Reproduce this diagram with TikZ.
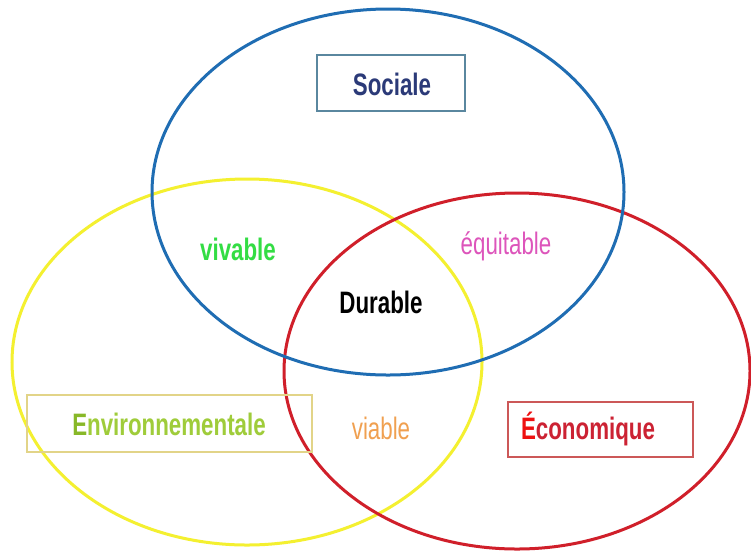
\documentclass[tikz,border=0pt]{standalone}
\usepackage{fontspec}
\setmainfont{Liberation Sans}
\newfontfamily\condfont[FakeStretch=0.72]{Liberation Sans}
\definecolor{cblue}{HTML}{1F6DB3}
\definecolor{cyellow}{HTML}{F4F030}
\definecolor{cred}{HTML}{D01F2A}
\definecolor{socbox}{HTML}{5A879F}
\definecolor{soctxt}{HTML}{2B3A78}
\definecolor{envbox}{HTML}{E2D488}
\definecolor{envtxt}{HTML}{9FCC3A}
\definecolor{envE}{HTML}{88B828}
\definecolor{ecobox}{HTML}{CC5858}
\definecolor{ecotxt}{HTML}{CC2233}
\definecolor{ecoE}{HTML}{EE1111}
\definecolor{vivc}{HTML}{33DD44}
\definecolor{equc}{HTML}{DD55BB}
\definecolor{viac}{HTML}{F0A050}
\tikzset{
  ring/.style={line width=3pt},
  lbl/.style={font=\condfont\fontsize{31}{36}\selectfont, inner sep=0pt},
  boldlbl/.style={font=\condfont\bfseries\fontsize{31}{36}\selectfont, inner sep=0pt},
  labelbox/.style={line width=1.3pt, inner sep=0pt},
}
\begin{document}
\begin{tikzpicture}[x=1pt,y=-1pt]
\useasboundingbox (0,0) rectangle (751,555);
\fill[white] (0,0) rectangle (751,555);
\draw[ring, cyellow] (247,362) ellipse [x radius=235pt, y radius=183pt];
\draw[ring, cred] (517,371) ellipse [x radius=233pt, y radius=178pt];
\draw[ring, cblue] (388,192) ellipse [x radius=236pt, y radius=183pt];

\node[labelbox, draw=socbox, minimum width=148pt, minimum height=56pt] (socbox) at (391,83) {};
\node[boldlbl, text=soctxt] (soc) at (392,84) {Sociale};

\node[labelbox, draw=envbox, minimum width=285pt, minimum height=57pt] (envbox) at (169.5,423.5) {};
\node[boldlbl, text=envtxt] (env) at (169,424) {\textcolor{envE}{E}nvironnementale};

\node[labelbox, draw=ecobox, minimum width=185pt, minimum height=55pt] (ecobox) at (600.5,429.5) {};
\node[boldlbl, text=ecotxt] (eco) at (588,429) {\textcolor{ecoE}{É}conomique};

\node[boldlbl, text=vivc] (viv) at (238,249) {vivable};
\node[lbl, text=equc] (equ) at (506,246) {équitable};
\node[boldlbl, text=black] (dur) at (381,302) {Durable};
\node[lbl, text=viac] (via) at (381,428) {viable};
\end{tikzpicture}
\end{document}
